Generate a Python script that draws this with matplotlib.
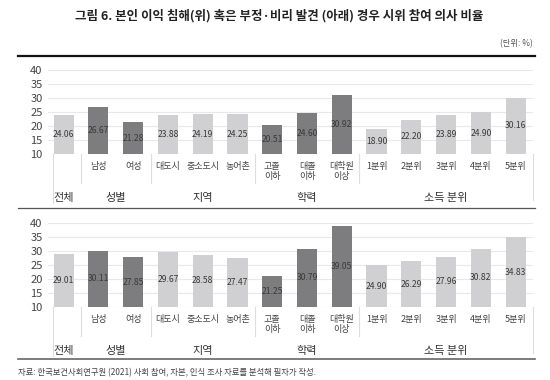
import matplotlib.pyplot as plt
import matplotlib.transforms as mtransforms

plt.rcParams['font.family'] = ['Noto Sans CJK KR', 'DejaVu Sans']

# data
categories = ['', '남성', '여성', '대도시', '중소도시', '농어촌', '고졸\n이하', '대졸\n이하', '대학원\n이상',
              '1분위', '2분위', '3분위', '4분위', '5분위']
top_values = [24.06, 26.67, 21.28, 23.88, 24.19, 24.25, 20.51, 24.60, 30.92,
              18.90, 22.20, 23.89, 24.90, 30.16]
bottom_values = [29.01, 30.11, 27.85, 29.67, 28.58, 27.47, 21.25, 30.79, 39.05,
                 24.90, 26.29, 27.96, 30.82, 34.83]
dark_bars = [1, 2, 6, 7, 8]
groups = ['전체', '성별', '지역', '학력', '소득 분위']
group_pos = [0, 1.5, 4, 7, 11]
separators = [0.5, 2.5, 5.5, 8.5]

W, H = 550, 380
fig = plt.figure(figsize=(5.5, 3.8), dpi=100)


def px_rect(x0, y0, x1, y1):
    return [x0 / W, 1 - y1 / H, (x1 - x0) / W, (y1 - y0) / H]


def hline(y, x0=18, x1=535, color='#222222', lw=1.0):
    fig.add_artist(plt.Line2D([x0 / W, x1 / W], [1 - y / H, 1 - y / H],
                              color=color, lw=lw, transform=fig.transFigure))


def draw_panel(rect, values):
    ax = fig.add_axes(rect)
    x = list(range(len(values)))
    colors = ['#7d7d7f' if i in dark_bars else '#d0d0d2' for i in x]
    ax.bar(x, [v - 10 for v in values], bottom=10, width=0.58, color=colors, zorder=2)
    for i, v in zip(x, values):
        ax.text(i, (v + 10) / 2, f'{v:.2f}', ha='center', va='center',
                fontsize=6.2, color='#3a3a3a', zorder=3)
    ax.set_ylim(10, 40)
    ax.set_xlim(-0.45, 13.5)
    ax.set_yticks(range(10, 41, 5))
    ax.set_xticks([])
    ax.tick_params(axis='y', length=0, labelsize=8, labelcolor='#444444', pad=4)
    for s in ax.spines.values():
        s.set_visible(False)
    ax.grid(axis='y', color='#e8e8e8', lw=0.8, zorder=0)
    trans = mtransforms.blended_transform_factory(ax.transData, ax.transAxes)
    for i, c in enumerate(categories):
        ax.text(i, -0.09, c, ha='center', va='top', fontsize=6.5, color='#444444',
                linespacing=1.2, transform=trans)
    for g, p in zip(groups, group_pos):
        ax.text(p, -0.52, g, ha='center', va='center', fontsize=8, color='#333333',
                transform=trans)
    for s in separators:
        ax.plot([s, s], [0, -0.35], color='#dddddd', lw=0.8, transform=trans, clip_on=False)
    ax.plot([-0.32, -0.32], [0, -0.58], color='#dddddd', lw=0.8, transform=trans, clip_on=False)
    ax.plot([13.5, 13.5], [0, -0.55], color='#dddddd', lw=0.8, transform=trans, clip_on=False)
    return ax


draw_panel(px_rect(48, 70, 533, 154), top_values)
draw_panel(px_rect(48, 223, 533, 307), bottom_values)

fig.text(279 / W, 1 - 16 / H, '그림 6. 본인 이익 침해(위) 혹은 부정·비리 발견 (아래) 경우 시위 참여 의사 비율',
         ha='center', va='center', fontsize=9, fontweight='bold', color='#222222')
fig.text(533 / W, 1 - 44 / H, '(단위: %)', ha='right', va='center', fontsize=6, color='#555555')
hline(56, lw=1.6, color='#111111')
hline(208, lw=0.9, color='#555555')
hline(359, lw=1.2, color='#666666')
fig.text(18 / W, 1 - 373 / H, '자료: 한국보건사회연구원 (2021) 사회 참여, 자본, 인식 조사 자료를 분석해 필자가 작성.',
         ha='left', va='center', fontsize=6, color='#444444')

fig.savefig('out.png', dpi=100)
